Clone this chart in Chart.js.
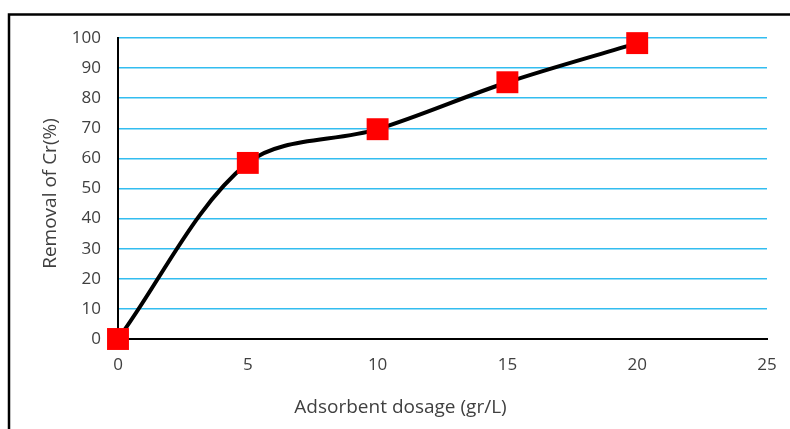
<!DOCTYPE html>
<html>
<head>
<meta charset="utf-8">
<script src="https://cdn.jsdelivr.net/npm/chart.js@4/dist/chart.umd.min.js"></script>
<style>
html,body{margin:0;padding:0;background:#fff;}
#wrap{width:790px;height:429px;position:relative;}
</style>
</head>
<body>
<div id="wrap"><canvas id="c" width="790" height="429"></canvas></div>
<script>
const dosage = [0, 5, 10, 15, 20];
const removal = [0, 58.5, 69.7, 85.3, 98.3];
const xTicks = [0, 5, 10, 15, 20, 25];
const yTicks = [0, 10, 20, 30, 40, 50, 60, 70, 80, 90, 100];
const xTitle = 'Adsorbent dosage (gr/L)';
const yTitle = 'Removal of Cr(%)';

const FONT = 'Open Sans';
const TXT = '#404040';

const frame = {
  id: 'frame',
  afterDraw(chart) {
    const ctx = chart.ctx;
    ctx.save();
    ctx.strokeStyle = '#000';
    ctx.lineWidth = 2.5;
    ctx.strokeRect(9, 14.5, 900, 600);
    ctx.restore();
  }
};

// shift an axis title by (dx, dy) pixels
function shiftTitle(scale, dx, dy) {
  if (scale._shifted) return;
  scale._shifted = true;
  const orig = scale.drawTitle;
  scale.drawTitle = function () {
    const ctx = this.ctx;
    ctx.save();
    ctx.translate(dx, dy);
    orig.apply(this, arguments);
    ctx.restore();
  };
}

new Chart(document.getElementById('c'), {
  type: 'line',
  data: {
    datasets: [{
      data: dosage.map((x, i) => ({x: x, y: removal[i]})),
      borderColor: '#000',
      borderWidth: 4,
      tension: 0.33,
      pointStyle: 'rect',
      pointRadius: 15.5,
      pointHoverRadius: 15.5,
      pointBackgroundColor: '#ff0000',
      pointBorderColor: '#ff0000',
      pointBorderWidth: 0,
      clip: false
    }]
  },
  options: {
    responsive: false,
    animation: false,
    events: [],
    layout: {padding: {left: 0, right: 23, top: 38, bottom: 0}},
    plugins: {legend: {display: false}, tooltip: {enabled: false}},
    scales: {
      x: {
        type: 'linear',
        min: 0, max: 25,
        afterBuildTicks: s => { s.ticks = xTicks.map(v => ({value: v})); },
        afterFit: s => { s.height = 90; s.paddingLeft = 0; s.paddingRight = 0; shiftTitle(s, -42, 0); },
        grid: {display: false, drawTicks: false},
        border: {display: true, color: '#000', width: 2},
        ticks: {color: TXT, font: {family: FONT, size: 17}, padding: 16, maxRotation: 0},
        title: {display: true, text: xTitle, color: TXT, font: {family: FONT, size: 19}, padding: {top: 0, bottom: 10}}
      },
      y: {
        min: 0, max: 100,
        afterBuildTicks: s => { s.ticks = yTicks.map(v => ({value: v})); },
        afterFit: s => { s.width = 118; s.paddingTop = 0; s.paddingBottom = 0; shiftTitle(s, -4, 5); },
        grid: {color: ctx => ctx.tick && ctx.tick.value === 0 ? 'rgba(0,0,0,0)' : '#33bdf0', lineWidth: 1.5, drawTicks: false},
        border: {display: true, color: '#000', width: 2},
        ticks: {color: TXT, font: {family: FONT, size: 17}, padding: 17},
        title: {display: true, text: yTitle, color: TXT, font: {family: FONT, size: 19}, padding: {top: 43, bottom: 0}}
      }
    }
  },
  plugins: [frame]
});
</script>
</body>
</html>
